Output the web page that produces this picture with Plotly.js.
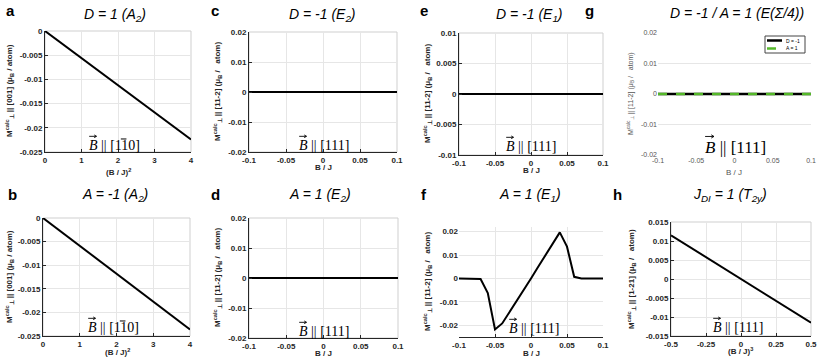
<!DOCTYPE html>
<html>
<head>
<meta charset="utf-8">
<script src="https://cdn.plot.ly/plotly-3.0.1.min.js"></script>
<style>
  html, body { margin: 0; padding: 0; background: #fff; }
  #chart { width: 830px; height: 362px; }
</style>
</head>
<body>
<div id="chart"></div>
<script>
// ---------- data ----------
const bSqA = [0, 1, 2, 3, 4];
const mA = [0, -0.0056, -0.0112, -0.0168, -0.0224];

const bSqB = [0, 1, 2, 3, 4];
const mB = [0, -0.0059, -0.0118, -0.0177, -0.0236];

const bC = [-0.1, -0.05, 0, 0.05, 0.1];
const mC = [0, 0, 0, 0, 0];

const bD = [-0.1, -0.05, 0, 0.05, 0.1];
const mD = [0, 0, 0, 0, 0];

const bE = [-0.1, -0.05, 0, 0.05, 0.1];
const mE = [0, 0, 0, 0, 0];

const bF = [-0.1, -0.09, -0.08, -0.07, -0.06, -0.05, -0.04, -0.03, -0.02, -0.01, 0,
            0.01, 0.02, 0.03, 0.04, 0.05, 0.06, 0.07, 0.08, 0.09, 0.1];
const mF = [0, 0, 0, -0.0002, -0.0062, -0.0218, -0.0192, -0.0145, -0.0098, -0.005, 0,
            0.005, 0.0099, 0.0148, 0.0197, 0.0136, 0.0007, 0, 0, 0, 0];

const bG = [-0.1, -0.05, 0, 0.05, 0.1];
const mGD = [0, 0, 0, 0, 0];
const mGA = [0, 0, 0, 0, 0];
const legendG = ["D = -1", "A = 1"];

const bCubeH = [-0.5, -0.25, 0, 0.25, 0.5];
const mH = [0.0115, 0.0057, 0, -0.0058, -0.0115];

// tick labels
const ticksX04 = [0, 1, 2, 3, 4];
const ticksX04Text = ["0", "1", "2", "3", "4"];
const ticksXSmall = [-0.1, -0.05, 0, 0.05, 0.1];
const ticksXSmallText = ["-0.1", "-0.05", "0", "0.05", "0.1"];
const ticksXH = [-0.5, -0.25, 0, 0.25, 0.5];
const ticksXHText = ["-0.5", "-0.25", "0", "0.25", "0.5"];
const ticksY025 = [0, -0.005, -0.01, -0.015, -0.02, -0.025];
const ticksY025Text = ["0", "-0.005", "-0.01", "-0.015", "-0.02", "-0.025"];
const ticksY02 = [-0.02, -0.01, 0, 0.01, 0.02];
const ticksY02Text = ["-0.02", "-0.01", "0", "0.01", "0.02"];
const ticksY01 = [-0.01, -0.005, 0, 0.005, 0.01];
const ticksY01Text = ["-0.01", "-0.005", "0", "0.005", "0.01"];
const ticksY015 = [-0.015, -0.01, -0.005, 0, 0.005, 0.01, 0.015];
const ticksY015Text = ["-0.015", "-0.01", "-0.005", "0", "0.005", "0.01", "0.015"];

// ---------- helpers ----------
const W = 830, H = 362;
const px = v => v / W;
const py = v => 1 - v / H;

const SANS = "Liberation Sans, Arial, sans-serif";
const SERIF = "Liberation Serif, Times New Roman, serif";
const tickFont = { family: SANS, size: 8, color: "#262626", weight: "bold" };

function axis(dom, range, vals, text, opts) {
  return Object.assign({
    domain: dom,
    range: range,
    tickmode: "array",
    tickvals: vals,
    ticktext: text,
    ticks: "inside",
    ticklen: 3,
    tickcolor: "#262626",
    showline: true,
    linecolor: "#262626",
    linewidth: 1,
    showgrid: true,
    gridcolor: "#e6e6e6",
    gridwidth: 1,
    zeroline: false,
    tickfont: tickFont,
    fixedrange: true
  }, opts || {});
}

function line(x, y, xa, ya, extra) {
  return Object.assign({
    x: x, y: y, xaxis: xa, yaxis: ya,
    mode: "lines", type: "scatter",
    line: { color: "#000", width: 2 },
    showlegend: false, hoverinfo: "skip"
  }, extra || {});
}

const greenDash = { color: "#55b82a", width: 2.5, dash: "dash" };
const blackThick = { color: "#000", width: 2.5 };

const traces = [
  line(bSqA, mA, "x", "y"),
  line(bC, mC, "x2", "y2"),
  line(bE, mE, "x3", "y3"),
  line(bG, mGD, "x4", "y4", { name: legendG[0], line: blackThick }),
  line(bG, mGA, "x4", "y4", { name: legendG[1], line: greenDash }),
  line(bSqB, mB, "x5", "y5"),
  line(bD, mD, "x6", "y6"),
  line(bF, mF, "x7", "y7"),
  line(bCubeH, mH, "x8", "y8")
];

// panel geometry in pixels: [left, right, top, bottom]
const boxA = [45, 191, 31, 152];
const boxC = [249, 397, 32, 152];
const boxE = [459, 603, 33, 155];
const boxG = [658, 811, 33, 155];
const boxB = [43, 190, 218, 336];
const boxD = [249, 398, 218, 338];
const boxF = [459, 603, 227, 337];
const boxH = [671, 811, 222, 336];

const xd = b => [px(b[0]), px(b[1])];
const yd = b => [py(b[3]), py(b[2])];

const gAxisOpts = { showline: false, ticks: "", tickfont: Object.assign({}, tickFont, { color: "#555", weight: "normal", size: 7 }) };

const layout = {
  width: W, height: H,
  margin: { l: 0, r: 0, t: 0, b: 0 },
  paper_bgcolor: "#fff",
  plot_bgcolor: "#fff",
  showlegend: false,
  font: { family: SANS, color: "#000" },
  xaxis:  axis(xd(boxA), [0, 4], ticksX04, ticksX04Text, { anchor: "y" }),
  yaxis:  axis(yd(boxA), [-0.025, 0], ticksY025, ticksY025Text, { anchor: "x" }),
  xaxis2: axis(xd(boxC), [-0.1, 0.1], ticksXSmall, ticksXSmallText, { anchor: "y2" }),
  yaxis2: axis(yd(boxC), [-0.02, 0.02], ticksY02, ticksY02Text, { anchor: "x2" }),
  xaxis3: axis(xd(boxE), [-0.1, 0.1], ticksXSmall, ticksXSmallText, { anchor: "y3" }),
  yaxis3: axis(yd(boxE), [-0.01, 0.01], ticksY01, ticksY01Text, { anchor: "x3" }),
  xaxis4: axis(xd(boxG), [-0.1, 0.1], ticksXSmall, ticksXSmallText, Object.assign({ anchor: "y4", showgrid: false }, gAxisOpts)),
  yaxis4: axis(yd(boxG), [-0.02, 0.02], ticksY02, ticksY02Text, Object.assign({ anchor: "x4" }, gAxisOpts)),
  xaxis5: axis(xd(boxB), [0, 4], ticksX04, ticksX04Text, { anchor: "y5" }),
  yaxis5: axis(yd(boxB), [-0.025, 0], ticksY025, ticksY025Text, { anchor: "x5" }),
  xaxis6: axis(xd(boxD), [-0.1, 0.1], ticksXSmall, ticksXSmallText, { anchor: "y6" }),
  yaxis6: axis(yd(boxD), [-0.02, 0.02], ticksY02, ticksY02Text, { anchor: "x6" }),
  xaxis7: axis(xd(boxF), [-0.1, 0.1], ticksXSmall, ticksXSmallText, { anchor: "y7" }),
  yaxis7: axis(yd(boxF), [-0.025, 0.022], ticksY02, ticksY02Text, { anchor: "x7", showline: false, ticks: "" }),
  xaxis8: axis(xd(boxH), [-0.5, 0.5], ticksXH, ticksXHText, { anchor: "y8" }),
  yaxis8: axis(yd(boxH), [-0.015, 0.015], ticksY015, ticksY015Text, { anchor: "x8" }),
  shapes: [],
  annotations: []
};

// light box around the axes, as in the figure
[["x", "y"], ["x2", "y2"], ["x3", "y3"], ["x5", "y5"], ["x6", "y6"], ["x8", "y8"]].forEach(([xa, ya]) => {
  layout.shapes.push({
    type: "rect", xref: xa + " domain", yref: ya + " domain",
    x0: 0, x1: 1, y0: 0, y1: 1,
    line: { color: "#cfcfcf", width: 1 }, layer: "below"
  });
});

function note(text, x, y, extra) {
  layout.annotations.push(Object.assign({
    text: text, xref: "paper", yref: "paper",
    x: px(x), y: py(y), xanchor: "center", yanchor: "middle",
    showarrow: false
  }, extra || {}));
}

function seg(x0, x1, y, lineStyle) {
  layout.shapes.push({
    type: "line", xref: "paper", yref: "paper",
    x0: px(x0), x1: px(x1), y0: py(y), y1: py(y),
    line: lineStyle
  });
}

// small vector arrow drawn as a path (tip on the right)
function vecArrow(x0, x1, y, head) {
  const p = (x, yy) => px(x) + "," + py(yy);
  layout.shapes.push({
    type: "path", xref: "paper", yref: "paper",
    path: "M" + p(x0, y) + " L" + p(x1, y) +
          " M" + p(x1 - head, y - head * 0.6) + " L" + p(x1, y) + " L" + p(x1 - head, y + head * 0.6),
    line: { color: "#000", width: 0.9 }
  });
}

// small legend box of panel g (compact, MATLAB style)
layout.shapes.push({
  type: "rect", xref: "paper", yref: "paper",
  x0: px(765), x1: px(805), y0: py(53), y1: py(36),
  fillcolor: "#fff", line: { color: "#444", width: 1 }
});
seg(767, 782, 40.5, blackThick);
seg(767, 782, 48.5, greenDash);
note(legendG[0], 784, 40.5, { xanchor: "left", font: { family: SANS, size: 5, color: "#000" } });
note(legendG[1], 784, 48.5, { xanchor: "left", font: { family: SANS, size: 5, color: "#000" } });

// panel letters
const letterFont = { family: SANS, size: 15, color: "#000", weight: "bold" };
[["a", 10, 11], ["b", 12, 194], ["c", 215, 11], ["d", 215, 194],
 ["e", 424, 11], ["f", 424, 194], ["g", 589, 11], ["h", 617, 194]].forEach(([t, x, y]) => {
  note(t, x, y, { font: letterFont });
});

// panel titles
const titleFont = { family: SANS, size: 14, color: "#000", style: "italic" };
[["D = 1 (A<sub>2</sub>)", 115, 15], ["D = -1 (E<sub>2</sub>)", 322, 15],
 ["D = -1 (E<sub>1</sub>)", 529, 15], ["D = -1 / A = 1 (E(Σ/4))", 737, 13],
 ["A = -1 (A<sub>2</sub>)", 115, 195], ["A = 1 (E<sub>2</sub>)", 320, 195],
 ["A = 1 (E<sub>1</sub>)", 530, 195], ["J<sub>DI</sub> = 1 (T<sub>2y</sub>)", 730, 195]].forEach(([t, x, y]) => {
  note(t, x, y, { font: titleFont });
});

// field direction labels: B (with arrow) || [111] or [1 1bar 0]
function fieldLabel(cx, cy, s, dir110) {
  const w = 3.68 * s;
  const left = cx - w / 2;
  const txt = "<i>B</i> || " + (dir110 ? "[110]" : "[111]");
  note(txt, left, cy, { xanchor: "left", font: { family: SERIF, size: s, color: "#000" } });
  vecArrow(left + 0.14 * s, left + 0.66 * s, cy - 0.62 * s, 0.16 * s);
  if (dir110) {
    const c = left + 2.6 * s;
    seg(c - 0.2 * s, c + 0.2 * s, cy - 0.43 * s, { color: "#000", width: 1 });
  }
}
fieldLabel(113, 145, 14, true);
fieldLabel(323, 145, 14, false);
fieldLabel(530, 146, 14, false);
fieldLabel(734, 147, 17, false);
fieldLabel(112, 327, 14, true);
fieldLabel(323, 331, 14, false);
fieldLabel(533, 328, 14, false);
fieldLabel(737, 327, 14, false);

// x-axis titles
const labFont = { family: SANS, size: 8, color: "#262626", weight: "bold" };
[["(B / J)<sup>2</sup>", 118, 172], ["B / J", 323, 168], ["B / J", 531, 171],
 ["B / J", 734, 172], ["(B / J)<sup>2</sup>", 117, 352], ["B / J", 323, 353],
 ["B / J", 531, 353], ["(B / J)<sup>3</sup>", 740, 351]].forEach(([t, x, y], i) => {
  const f = i === 3 ? Object.assign({}, labFont, { color: "#555", weight: "normal" }) : labFont;
  note(t, x, y, { font: f });
});

// y-axis titles
const yt001 = "M<sup>calc</sup><sub>⊥</sub> || [001] (μ<sub>B</sub> / atom)";
const yt112 = "M<sup>calc</sup><sub>⊥</sub> || [11-2] (μ<sub>B</sub> /   atom)";
const yt121 = "M<sup>calc</sup><sub>⊥</sub> || [1-21] (μ<sub>B</sub> /   atom)";
[[yt001, 9, 91], [yt112, 217, 92], [yt112, 427, 94], [yt112, 630, 94],
 [yt001, 9, 277], [yt112, 217, 278], [yt112, 427, 282], [yt121, 631, 279]].forEach(([t, x, y], i) => {
  const f = i === 3 ? Object.assign({}, labFont, { color: "#555", weight: "normal", size: 7 }) : labFont;
  note(t, x, y, { font: f, textangle: -90 });
});

Plotly.newPlot("chart", traces, layout, { displayModeBar: false, staticPlot: true });
</script>
</body>
</html>
